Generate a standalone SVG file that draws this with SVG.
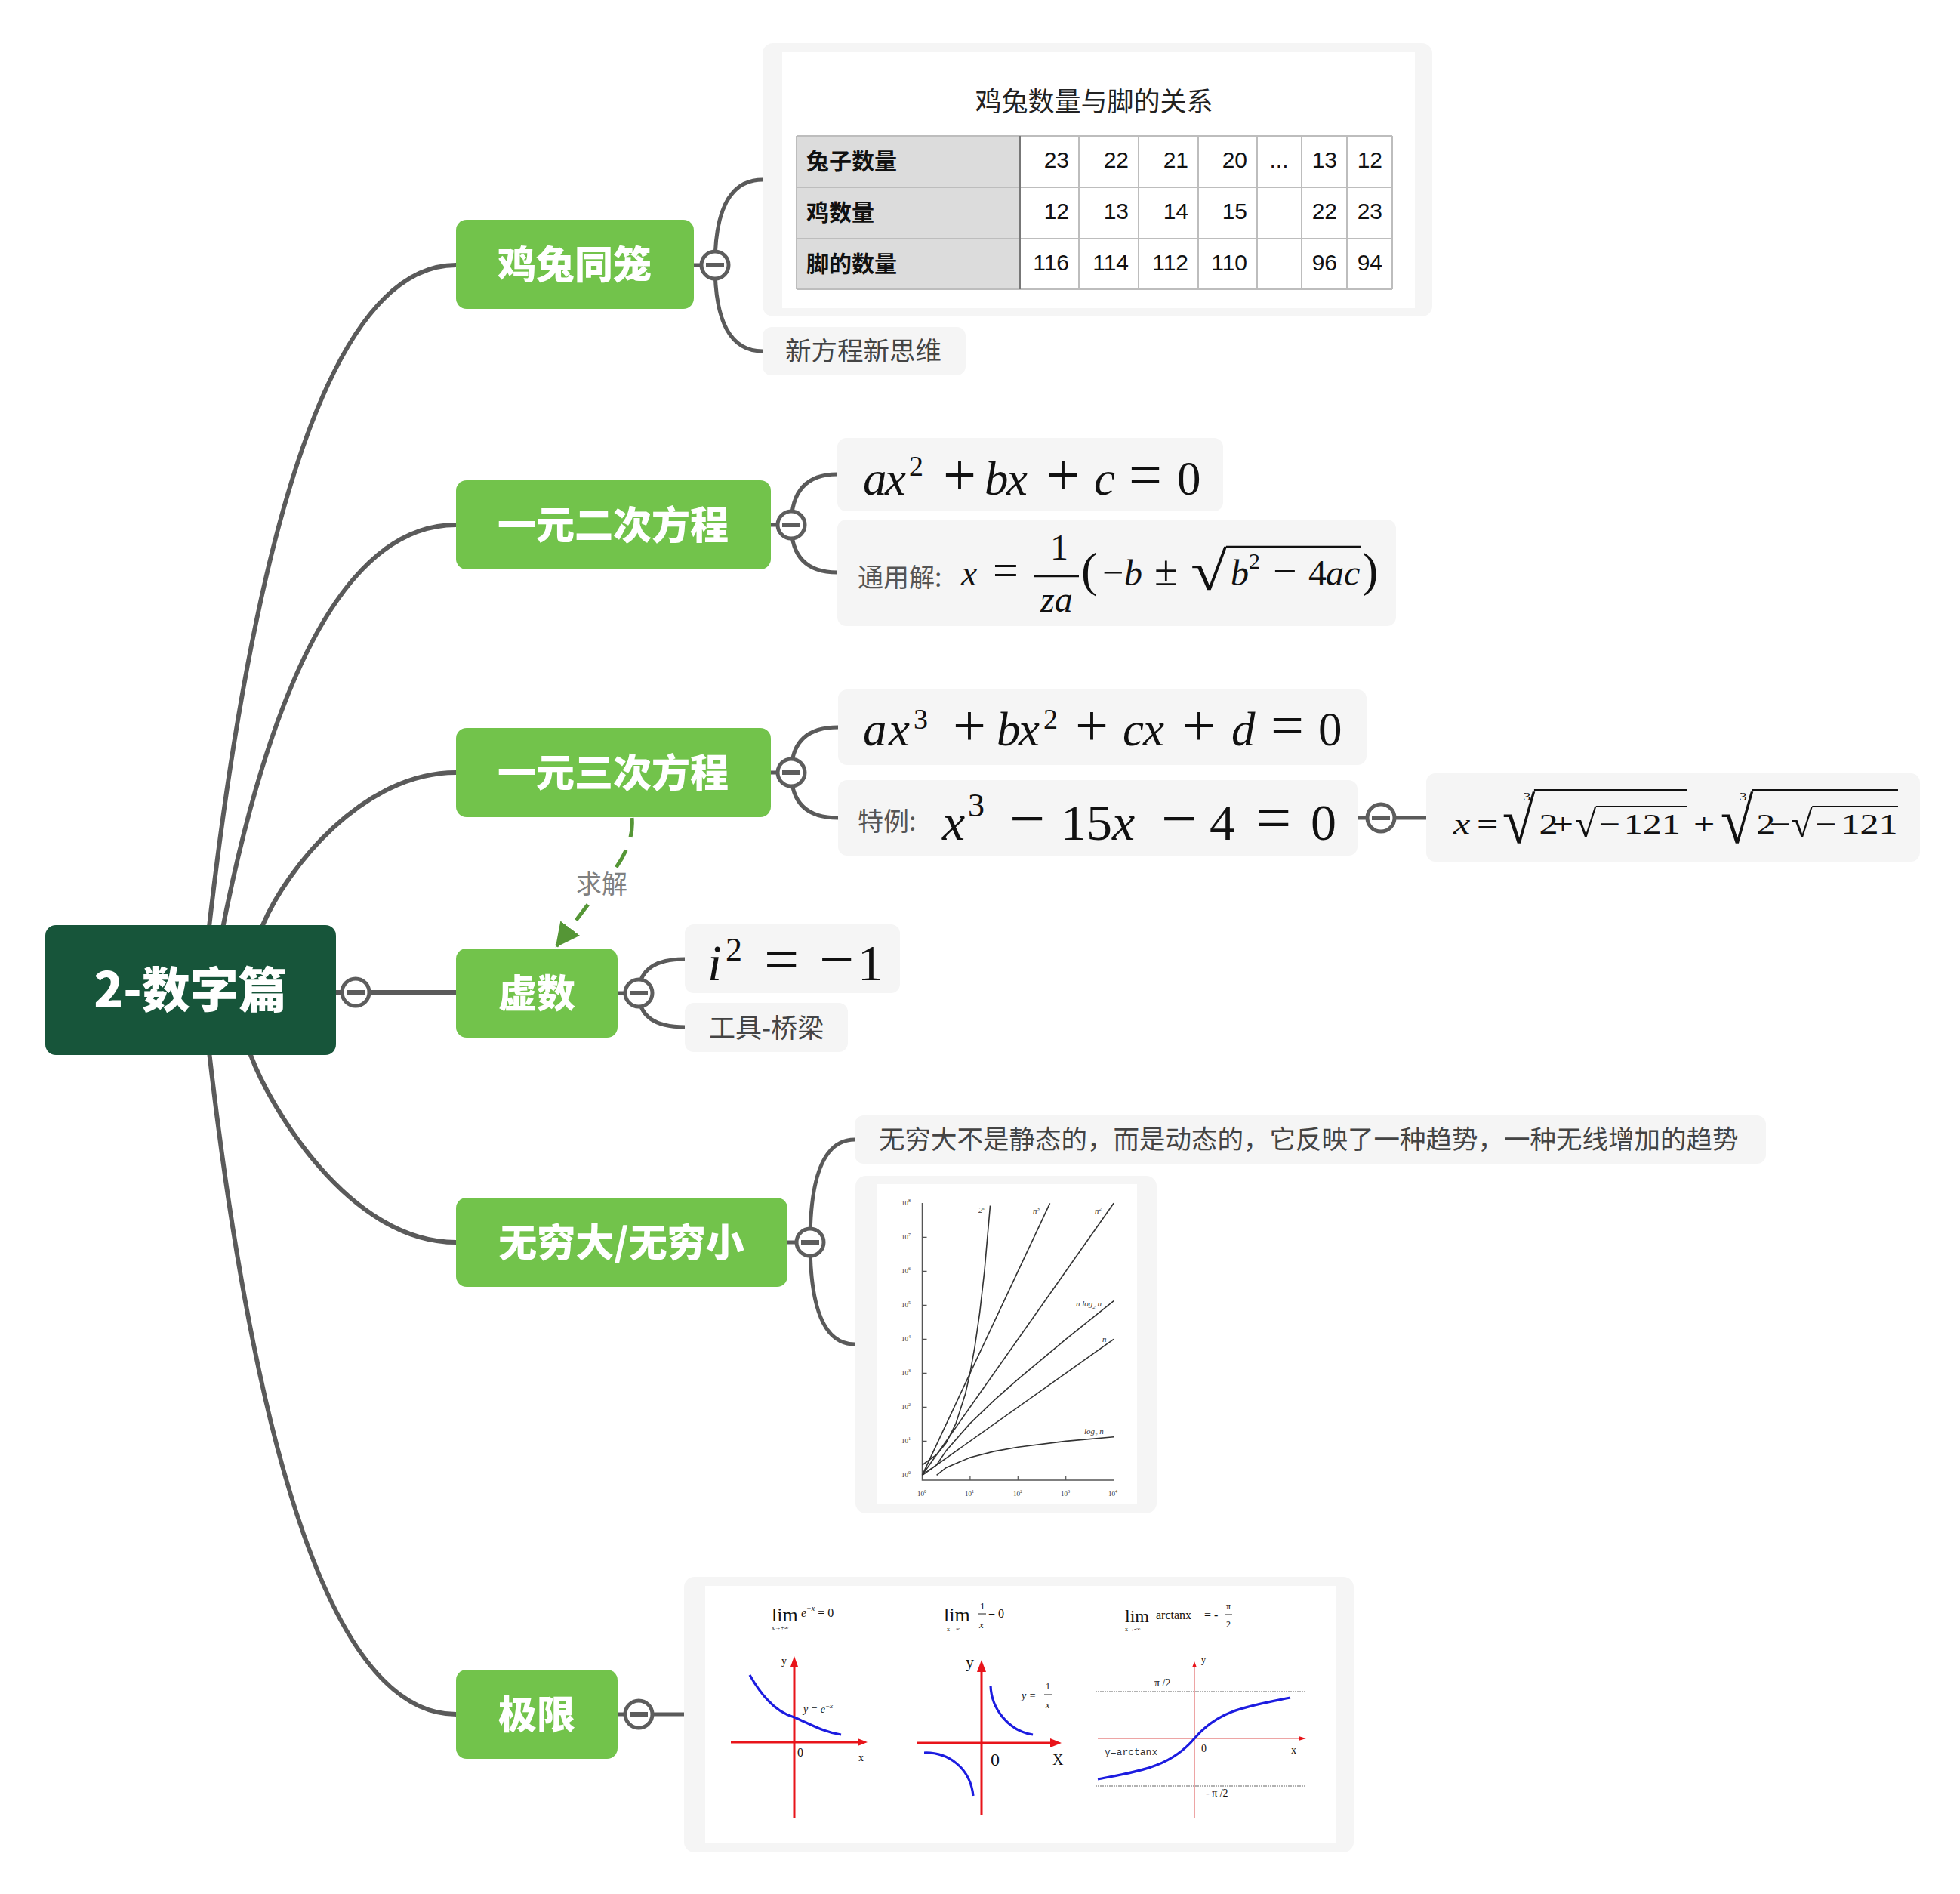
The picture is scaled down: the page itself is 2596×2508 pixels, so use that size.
<svg xmlns="http://www.w3.org/2000/svg" width="2596" height="2508" viewBox="0 0 2596 2508">
<defs>
<style>
.conn{fill:none;stroke:#5A5A5A;stroke-width:6}
.sub{fill:none;stroke:#5A5A5A;stroke-width:5}
.mainbox{fill:#72C34B}
.mt{font-family:"Noto Sans CJK SC",sans-serif;font-weight:900;font-size:51px;fill:#fff;text-anchor:middle}
.box{fill:#F5F5F5}
.cj{font-family:"Noto Sans CJK SC",sans-serif;fill:#444}
.m{font-family:"Liberation Serif",serif;fill:#111}
.i{font-style:italic}
.tg circle{fill:#fff;stroke:#5D5D5D;stroke-width:5}
.tg rect{fill:#5D5D5D}
.grid{stroke:#BDBDBD;stroke-width:2;fill:none}
.rl{font-family:"Noto Sans CJK SC",sans-serif;font-weight:700;font-size:30px;fill:#111}
.num{font-family:"Liberation Sans",Arial,sans-serif;font-size:30px;fill:#111;text-anchor:end}
.gl{fill:none;stroke:#333;stroke-width:1.6}
.sm{font-family:"Liberation Serif",serif;fill:#333}
.red{stroke:#E8141A;stroke-width:3;fill:none}
.blue{stroke:#1C1CE0;stroke-width:3.2;fill:none}
</style>
<g id="tog" class="tg"><circle r="18"/><rect x="-12" y="-3" width="24" height="6"/></g>
<marker id="ah" markerUnits="userSpaceOnUse" markerWidth="34" markerHeight="34" refX="30" refY="16" orient="auto"><path d="M0 0 L32 16 L0 32 Z" fill="#559636"/></marker>
</defs>
<rect width="2596" height="2508" fill="#fff"/>

<g id="connectors">
<path class="conn" d="M268 1310 Q367 351 604 351"/>
<path class="conn" d="M280 1310 Q386 695 604 695"/>
<path class="conn" d="M363 1260 L348 1225 C380 1150 480 1023 604 1023"/>
<path class="conn" d="M445 1314 H604"/>
<path class="conn" d="M322 1370 L332 1397 C355 1460 460 1645 604 1645"/>
<path class="conn" d="M268 1310 Q367 2270 604 2270"/>
<path class="sub" d="M919 351 H947 M947 351 Q947 238 1010 238 M947 351 Q947 465 1010 465"/>
<path class="sub" d="M1021 695 H1048 M1048 695 Q1048 628 1109 628 M1048 695 Q1048 758 1109 758"/>
<path class="sub" d="M1021 1023 H1048 M1048 1023 Q1048 963 1110 963 M1048 1023 Q1048 1083 1110 1083"/>
<path class="sub" d="M818 1315 H846 M846 1315 Q846 1270 907 1270 M846 1315 Q846 1360 907 1360"/>
<path class="sub" d="M1043 1645 H1073 M1073 1645 Q1073 1509 1132 1509 M1073 1645 Q1073 1780 1132 1780"/>
<path class="sub" d="M818 2270 H906"/>
<path class="sub" d="M1798 1083 H1889"/>
<path d="M837 1083 Q840 1115 815 1150 L737 1253" fill="none" stroke="#559636" stroke-width="5" stroke-dasharray="26 18" marker-end="url(#ah)"/>
<rect x="762" y="1150" width="72" height="42" fill="#fff"/>
<text x="797" y="1183" class="cj" font-size="34" text-anchor="middle" style="fill:#808080">求解</text>
</g>

<g id="root">
<rect x="60" y="1225" width="385" height="172" rx="14" fill="#17553A"/>
<text x="252" y="1334" font-family="Noto Sans CJK SC, sans-serif" font-weight="900" font-size="64" fill="#fff" text-anchor="middle">2-数字篇</text>
</g>

<g id="node-jitu">
<rect class="mainbox" x="604" y="291" width="315" height="118" rx="14"/>
<text class="mt" x="761" y="369">鸡兔同笼</text>
</g>
<g id="node-erci">
<rect class="mainbox" x="604" y="636" width="417" height="118" rx="14"/>
<text class="mt" x="812" y="714">一元二次方程</text>
</g>
<g id="node-sanci">
<rect class="mainbox" x="604" y="964" width="417" height="118" rx="14"/>
<text class="mt" x="812" y="1042">一元三次方程</text>
</g>
<g id="node-xushu">
<rect class="mainbox" x="604" y="1256" width="214" height="118" rx="14"/>
<text class="mt" x="711" y="1334">虚数</text>
</g>
<g id="node-wuqiong">
<rect class="mainbox" x="604" y="1586" width="439" height="118" rx="14"/>
<text class="mt" x="823" y="1664">无穷大/无穷小</text>
</g>
<g id="node-jixian">
<rect class="mainbox" x="604" y="2211" width="214" height="118" rx="14"/>
<text class="mt" x="711" y="2289">极限</text>
</g>

<g id="node-table">
<rect class="box" x="1010" y="57" width="887" height="362" rx="14"/>
<rect x="1036" y="69" width="838" height="339" fill="#fff"/>
<text x="1449" y="147" font-family="Noto Sans CJK SC, sans-serif" font-size="35" fill="#222" text-anchor="middle">鸡兔数量与脚的关系</text>
<rect x="1055" y="180" width="296" height="203" fill="#DCDCDC"/>
<path class="grid" d="M1055 180 H1844 M1055 248 H1844 M1055 316 H1844 M1055 383 H1844 M1055 180 V383 M1429 180 V383 M1508 180 V383 M1587 180 V383 M1665 180 V383 M1724 180 V383 M1784 180 V383 M1844 180 V383"/>
<path d="M1351 180 V383" stroke="#777" stroke-width="2"/>
<text class="rl" x="1068" y="224">兔子数量</text>
<text class="rl" x="1068" y="292">鸡数量</text>
<text class="rl" x="1068" y="360">脚的数量</text>
<text class="num" y="222"><tspan x="1416">23</tspan><tspan x="1495">22</tspan><tspan x="1574">21</tspan><tspan x="1652">20</tspan><tspan x="1771">13</tspan><tspan x="1831">12</tspan></text>
<text class="num" y="290"><tspan x="1416">12</tspan><tspan x="1495">13</tspan><tspan x="1574">14</tspan><tspan x="1652">15</tspan><tspan x="1771">22</tspan><tspan x="1831">23</tspan></text>
<text class="num" y="358"><tspan x="1416">116</tspan><tspan x="1495">114</tspan><tspan x="1574">112</tspan><tspan x="1652">110</tspan><tspan x="1771">96</tspan><tspan x="1831">94</tspan></text>
<text x="1694" y="222" font-family="Liberation Sans, Arial, sans-serif" font-size="30" fill="#111" text-anchor="middle">...</text>
</g>

<g id="node-xinfangcheng">
<rect class="box" x="1010" y="433" width="269" height="64" rx="12"/>
<text class="cj" x="1040" y="477" font-size="34.5">新方程新思维</text>
</g>

<g id="node-erci-eq">
<rect class="box" x="1109" y="580" width="511" height="97" rx="12"/>
<text class="m" y="655" font-size="63"><tspan x="1143" class="i">a</tspan><tspan x="1172" class="i">x</tspan><tspan x="1204" y="630" font-size="38">2</tspan><tspan x="1249" y="655" font-size="78">+</tspan><tspan x="1304" class="i">b</tspan><tspan x="1333" class="i">x</tspan><tspan x="1386" font-size="78">+</tspan><tspan x="1449" class="i">c</tspan><tspan x="1495" font-size="78">=</tspan><tspan x="1559">0</tspan></text>
</g>

<g id="node-erci-sol">
<rect class="box" x="1109" y="688" width="740" height="141" rx="12"/>
<text class="cj" x="1136" y="777" font-size="34" style="fill:#555">通用解:</text>
<text class="m" font-size="48" y="775"><tspan x="1273" class="i">x</tspan><tspan x="1315" font-size="60">=</tspan><tspan x="1391" y="741">1</tspan><tspan x="1378" y="810" class="i">za</tspan><tspan x="1432" y="776" font-size="64">(</tspan><tspan x="1460" y="775" font-size="50">−</tspan><tspan x="1489" class="i">b</tspan><tspan x="1529" font-size="56">±</tspan><tspan x="1630" class="i">b</tspan><tspan x="1654" y="753" font-size="30">2</tspan><tspan x="1686" y="775" font-size="56">−</tspan><tspan x="1733">4</tspan><tspan x="1756" class="i">a</tspan><tspan x="1780" class="i">c</tspan><tspan x="1804" y="776" font-size="64">)</tspan></text>
<path d="M1370 763 H1429 M1624 724 H1803" stroke="#111" stroke-width="2.5"/>
<text class="m" font-size="72" transform="translate(1577 781) scale(1.22 1)">√</text>
</g>

<g id="node-sanci-eq">
<rect class="box" x="1110" y="913" width="700" height="100" rx="12"/>
<text class="m" y="987" font-size="63"><tspan x="1143" class="i">a</tspan><tspan x="1177" class="i">x</tspan><tspan x="1210" y="965" font-size="38">3</tspan><tspan x="1262" y="987" font-size="78">+</tspan><tspan x="1320" class="i">b</tspan><tspan x="1349" class="i">x</tspan><tspan x="1382" y="965" font-size="38">2</tspan><tspan x="1424" y="987" font-size="78">+</tspan><tspan x="1487" class="i">c</tspan><tspan x="1514" class="i">x</tspan><tspan x="1566" font-size="78">+</tspan><tspan x="1631" class="i">d</tspan><tspan x="1683" font-size="78">=</tspan><tspan x="1746">0</tspan></text>
</g>

<g id="node-teli">
<rect class="box" x="1110" y="1033" width="688" height="100" rx="12"/>
<text class="cj" x="1136" y="1100" font-size="34" style="fill:#555">特例:</text>
<text class="m" y="1112" font-size="68"><tspan x="1248" class="i">x</tspan><tspan x="1282" y="1081" font-size="44">3</tspan><tspan x="1337" y="1112" font-size="84">−</tspan><tspan x="1405">15</tspan><tspan x="1473" class="i">x</tspan><tspan x="1538" font-size="84">−</tspan><tspan x="1602">4</tspan><tspan x="1663" font-size="84">=</tspan><tspan x="1736">0</tspan></text>
</g>

<g id="node-teli-sol">
<rect class="box" x="1889" y="1024" width="654" height="117" rx="12"/>
<g transform="translate(1925 1104) scale(1.32 1)">
<text class="m" y="0" font-size="38"><tspan x="0" class="i">x</tspan><tspan x="23.5">=</tspan><tspan x="86">2</tspan><tspan x="99">+</tspan><tspan x="146">−</tspan><tspan x="171">121</tspan><tspan x="241">+</tspan><tspan x="304">2</tspan><tspan x="317">−</tspan><tspan x="363">−</tspan><tspan x="389">121</tspan></text>
<text class="m" font-size="15"><tspan x="70" y="-44">3</tspan><tspan x="287" y="-44">3</tspan></text>
<text class="m" font-size="86" transform="translate(49 12) scale(0.7 1)">√</text>
<text class="m" font-size="86" transform="translate(268 12) scale(0.7 1)">√</text>
<text class="m" font-size="50" transform="translate(122 4) scale(0.78 1)">√</text>
<text class="m" font-size="50" transform="translate(339 4) scale(0.78 1)">√</text>
<path d="M81 -58 H234.1 M143 -36 H234.1 M300 -58 H446.2 M360 -36 H446.2" stroke="#111" stroke-width="2"/>
</g>
</g>

<g id="node-i2">
<rect class="box" x="907" y="1224" width="285" height="91" rx="12"/>
<text class="m" y="1298" font-size="68"><tspan x="937" class="i">i</tspan><tspan x="961" y="1272" font-size="44">2</tspan><tspan x="1012" y="1298" font-size="82">=</tspan><tspan x="1085" font-size="82">−</tspan><tspan x="1136">1</tspan></text>
</g>

<g id="node-qiaoliang">
<rect class="box" x="907" y="1328" width="216" height="65" rx="12"/>
<text class="cj" x="939" y="1374" font-size="35">工具-桥梁</text>
</g>

<g id="node-wuqiong-text">
<rect class="box" x="1132" y="1477" width="1207" height="64" rx="12"/>
<text class="cj" x="1164" y="1521" font-size="34.5">无穷大不是静态的，而是动态的，它反映了一种趋势，一种无线增加的趋势</text>
</g>

<g id="node-growth-chart">
<rect class="box" x="1133" y="1557" width="399" height="447" rx="14"/>
<rect x="1162" y="1568" width="344" height="424" fill="#fff"/>
<path d="M1221.5 1593 V1960 H1475" stroke="#555" stroke-width="1.5" fill="none"/>
<path d="M1221.5 1908.3 h6 M1221.5 1863.3 h6 M1221.5 1818.3 h6 M1221.5 1773.3 h6 M1221.5 1728.3 h6 M1221.5 1683.3 h6 M1221.5 1638.3 h6 M1284.9 1960 v-6 M1348.3 1960 v-6 M1411.7 1960 v-6" stroke="#555" stroke-width="1.2"/>
<path class="gl" d="M1221.5 1953.3 L1475.1 1773.3"/>
<path class="gl" d="M1221.5 1953.3 L1475.1 1593.3"/>
<path class="gl" d="M1221.5 1953.3 L1390.6 1593.3"/>
<path class="gl" d="M1221.5 1939.8 L1240.6 1926.2 L1253.2 1910.5 L1265.9 1885.4 L1278.6 1845.8 L1284.9 1817.8 L1291.2 1782.8 L1297.6 1738.6 L1303.9 1683.3 L1311.5 1596.5"/>
<path class="gl" d="M1221.5 1953.3 L1240.6 1939.8 L1253.2 1920.9 L1284.9 1884.9 L1316.6 1854.4 L1348.3 1826.3 L1411.7 1773.4 L1475.1 1722.7"/>
<path class="gl" d="M1240.6 1953.3 L1253.2 1943.4 L1284.9 1929.9 L1316.6 1921.9 L1348.3 1916.3 L1411.7 1908.4 L1475.1 1902.8"/>
<g class="sm" font-size="9">
<text x="1194" y="1956">10<tspan dy="-4" font-size="6">0</tspan></text>
<text x="1194" y="1911">10<tspan dy="-4" font-size="6">1</tspan></text>
<text x="1194" y="1866">10<tspan dy="-4" font-size="6">2</tspan></text>
<text x="1194" y="1821">10<tspan dy="-4" font-size="6">3</tspan></text>
<text x="1194" y="1776">10<tspan dy="-4" font-size="6">4</tspan></text>
<text x="1194" y="1731">10<tspan dy="-4" font-size="6">5</tspan></text>
<text x="1194" y="1686">10<tspan dy="-4" font-size="6">6</tspan></text>
<text x="1194" y="1641">10<tspan dy="-4" font-size="6">7</tspan></text>
<text x="1194" y="1596">10<tspan dy="-4" font-size="6">8</tspan></text>
<text x="1215" y="1981">10<tspan dy="-4" font-size="6">0</tspan></text>
<text x="1278" y="1981">10<tspan dy="-4" font-size="6">1</tspan></text>
<text x="1342" y="1981">10<tspan dy="-4" font-size="6">2</tspan></text>
<text x="1405" y="1981">10<tspan dy="-4" font-size="6">3</tspan></text>
<text x="1468" y="1981">10<tspan dy="-4" font-size="6">4</tspan></text>
</g>
<g class="sm" font-size="11" font-style="italic">
<text x="1296" y="1606">2<tspan dy="-4" font-size="7">n</tspan></text>
<text x="1368" y="1607">n<tspan dy="-4" font-size="7">3</tspan></text>
<text x="1450" y="1607">n<tspan dy="-4" font-size="7">2</tspan></text>
<text x="1425" y="1730">n log<tspan dy="3" font-size="7">2</tspan><tspan dy="-3"> n</tspan></text>
<text x="1460" y="1777">n</text>
<text x="1436" y="1899">log<tspan dy="3" font-size="7">2</tspan><tspan dy="-3"> n</tspan></text>
</g>
</g>

<g id="node-limit-chart">
<rect class="box" x="906" y="2088" width="887" height="365" rx="14"/>
<rect x="934" y="2100" width="835" height="341" fill="#fff"/>
<g class="m">
<text x="1022" y="2147" font-size="26">lim</text>
<text x="1061" y="2141" font-size="16" class="i">e<tspan dy="-8" font-size="10">−x</tspan><tspan dy="8" font-size="16" font-style="normal"> = 0</tspan></text>
<text x="1022" y="2158" font-size="8">x→+∞</text>
<text x="1250" y="2147" font-size="26">lim</text>
<text x="1298" y="2131" font-size="13">1</text>
<text x="1297" y="2156" font-size="13" class="i">x</text>
<text x="1309" y="2142" font-size="16">= 0</text>
<text x="1254" y="2160" font-size="8">x→∞</text>
<text x="1490" y="2148" font-size="24">lim</text>
<text x="1531" y="2144" font-size="16">arctanx</text>
<text x="1595" y="2144" font-size="16">= -</text>
<text x="1624" y="2131" font-size="12">π</text>
<text x="1624" y="2155" font-size="12">2</text>
<text x="1490" y="2160" font-size="8">x→-∞</text>
</g>
<path d="M1296 2137 H1306 M1622 2138 H1632" stroke="#222" stroke-width="1"/>
<path class="red" d="M1052 2408 V2204 M968 2307 H1140"/>
<path d="M1052 2193 L1047 2207 L1057 2207 Z M1149 2307 L1136 2302 L1136 2312 Z" fill="#E8141A"/>
<path class="blue" d="M993 2218 C1010 2248 1030 2268 1052 2274 C1075 2284 1092 2294 1114 2297"/>
<text class="m i" x="1064" y="2268" font-size="14">y = e<tspan dy="-6" font-size="9">−x</tspan></text>
<text class="m" x="1035" y="2204" font-size="14">y</text>
<text class="m" x="1056" y="2326" font-size="16">0</text>
<text class="m" x="1137" y="2332" font-size="14">x</text>
<path class="red" d="M1300 2403 V2210 M1215 2308 H1395"/>
<path d="M1300 2198 L1294 2214 L1306 2214 Z M1406 2308 L1391 2302 L1391 2314 Z" fill="#E8141A"/>
<path class="blue" d="M1312 2232 C1313 2262 1335 2292 1368 2297"/>
<path class="blue" d="M1224 2321 C1255 2320 1285 2340 1289 2378"/>
<text class="m i" x="1353" y="2250" font-size="14">y =</text>
<text class="m" x="1385" y="2237" font-size="12">1</text>
<path d="M1383 2244 H1393" stroke="#222" stroke-width="1"/>
<text class="m i" x="1385" y="2262" font-size="12">x</text>
<text class="m" x="1279" y="2208" font-size="22">y</text>
<text class="m" x="1312" y="2338" font-size="24">0</text>
<text class="m" x="1394" y="2337" font-size="20">X</text>
<path d="M1451 2240 H1730 M1451 2365 H1730" stroke="#999" stroke-width="1.5" stroke-dasharray="2 1"/>
<path d="M1582 2408 V2206 M1454 2302 H1722" stroke="#E88888" stroke-width="1.5" fill="none"/>
<path d="M1582 2200 L1579 2208 L1585 2208 Z M1730 2302 L1720 2299 L1720 2305 Z" fill="#E8141A"/>
<path class="blue" d="M1454 2356 C1510 2345 1550 2340 1582 2302 C1614 2264 1654 2259 1709 2248"/>
<text class="m" x="1529" y="2233" font-size="14">π /2</text>
<text class="m" x="1597" y="2379" font-size="14">- π /2</text>
<text class="m" x="1591" y="2320" font-size="14">0</text>
<text class="m" x="1710" y="2322" font-size="14">x</text>
<text class="m" x="1591" y="2202" font-size="12">y</text>
<text x="1463" y="2324" font-family="Liberation Mono, monospace" font-size="13" fill="#333">y=arctanx</text>
</g>

<g id="toggles">
<use href="#tog" x="471" y="1314"/>
<use href="#tog" x="947" y="351"/>
<use href="#tog" x="1048" y="695"/>
<use href="#tog" x="1048" y="1023"/>
<use href="#tog" x="846" y="1315"/>
<use href="#tog" x="1073" y="1645"/>
<use href="#tog" x="846" y="2270"/>
<use href="#tog" x="1829" y="1083"/>
</g>
</svg>
